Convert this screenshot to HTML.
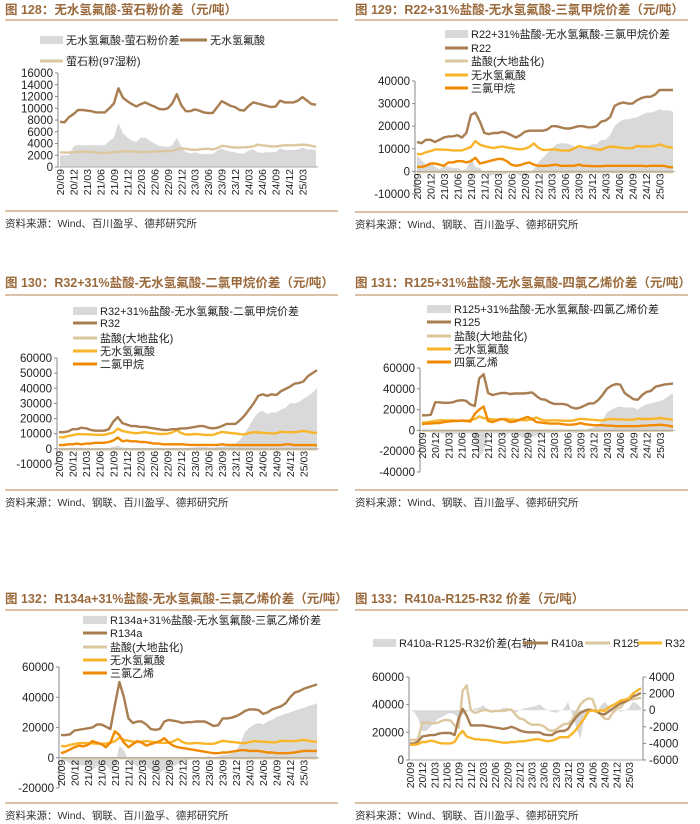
<!DOCTYPE html>
<html><head><meta charset="utf-8"><style>
html,body{margin:0;padding:0;background:#fff;}
svg{display:block;font-family:"Liberation Sans","Noto Sans CJK SC",sans-serif;}
</style></head><body>
<svg id="root" width="700" height="824" viewBox="0 0 700 824" xmlns="http://www.w3.org/2000/svg"></svg>
<script>
const dates=["20/09","20/12","21/03","21/06","21/09","21/12","22/03","22/06","22/09","22/12","23/03","23/06","23/09","23/12","24/03","24/06","24/09","24/12","25/03"];
const ahf=[7700,7600,8500,9000,9700,9700,9600,9500,9300,9300,9300,10000,10800,13400,11800,11200,10700,10300,10700,11000,10600,10300,9900,9800,10000,10800,12400,10500,9500,9500,9800,9600,9300,9200,9200,10200,11200,10800,10400,10200,9700,9600,10400,11000,10800,10600,10400,10200,10300,11300,11000,11000,11000,11300,11900,11300,10700,10600];
const fluorite=[2500,2450,2450,2500,2600,2600,2600,2550,2450,2400,2400,2450,2500,2600,2650,2700,2650,2600,2500,2550,2600,2600,2650,2700,2700,2800,3000,3200,3100,3000,2900,3000,3100,3100,3000,3200,3600,3500,3400,3300,3300,3350,3400,3500,3800,3700,3600,3500,3500,3600,3700,3700,3700,3750,3800,3750,3600,3400];
const spread128=[2000,2000,2000,3500,3800,3700,3700,3700,3700,3700,3700,4500,5000,7500,5800,5000,4500,4300,5000,5000,4500,4000,3600,3500,3400,3700,5000,3500,2500,2300,2500,2300,2200,2200,2200,2800,3200,2800,2600,2500,2300,2300,2800,3000,2500,2400,2500,2500,2500,3200,2900,2900,2900,3000,3300,3000,3000,2900];
const hcl=[-300,-300,-300,-300,-300,-300,-300,-300,-300,-300,-300,-300,-300,-300,-300,-300,-300,-300,-300,-300,-300,-300,-300,-300,-300,-300,-300,-300,-300,-300,-300,-300,-300,-300,-300,-300,-300,-300,-300,-300,-300,-300,-300,-300,-300,-300,-300,-300,-300,-300,-300,-300,-300,-300,-300,-300,-300,-300];
const r22=[13000,12500,14000,14000,13000,14000,15000,15500,15500,16000,15000,17000,25000,26000,22000,17000,16500,17000,17000,17500,17000,16000,15000,16000,17500,18000,18000,18000,18000,18500,20000,20000,19500,19000,19000,19500,20000,20000,19500,19500,20000,22000,22500,24000,29000,30000,30500,30000,30000,31500,32500,33000,33000,34000,36000,36000,36000,36000];
const chcl3=[2000,2000,2500,3500,3500,3000,2500,4000,4000,4500,4500,4000,4500,6000,3500,4000,4500,5000,5500,5500,4500,3000,2500,2800,3500,4000,3000,2500,2500,2500,2800,3000,2500,2500,2500,2500,3000,2500,2500,2300,2300,2300,2500,2500,2500,2500,2500,2500,2500,2500,2500,2300,2500,2500,2500,2500,2000,1800];
const spread129=[7000,5000,3000,4000,2000,1000,2500,2000,1500,1500,500,1000,6000,2000,1500,-1000,-2000,-1500,-1500,-1500,-1000,0,-1000,-2000,-1500,-500,1000,4000,6000,8000,10000,12000,12500,12500,12000,11000,10500,11000,11000,12000,12000,14000,14000,16000,20000,22000,23000,23000,23500,24000,25000,26000,26000,26500,27500,27000,27000,26500];
const r32=[11000,11000,11500,13000,13000,14000,13500,12500,12000,12000,12000,13000,18000,21000,17000,16000,15000,15000,14500,14500,14000,13500,13000,12500,12500,13000,13000,13500,13500,14000,14500,15000,15000,14000,13500,14000,15000,16500,16500,16500,19000,22000,26000,30000,35000,36000,35000,36000,35500,38000,39500,41000,43000,43500,44500,48000,50000,52000];
const dcm=[2500,2500,3000,3000,3500,3000,3500,3500,4000,4000,4000,4500,5500,7500,5000,5500,5000,5000,4500,4500,4000,3500,3500,3000,3000,3000,3000,3000,2800,2600,2600,2600,2600,2600,2600,2600,3000,2700,2600,2600,2500,2500,2500,2500,2500,2500,2500,2500,2500,2500,3000,3000,2500,2500,2500,2500,2500,2300];
const spread130=[500,500,500,800,600,800,500,200,200,200,200,300,1500,2000,800,600,500,500,500,500,300,200,200,200,200,300,300,400,500,800,1000,1200,1200,1000,800,1000,1500,2000,3000,3500,6000,10000,15000,20000,24000,25000,23000,24000,24000,26000,27000,30000,30000,31000,33000,35000,37000,40000];
const r125=[14500,14500,15000,27000,27000,26500,26500,27000,28500,29000,28500,25000,23500,50000,54000,36000,34000,35000,36000,36000,35000,35500,35500,35500,36000,36500,33000,30000,29500,27000,25500,25500,25500,24500,22000,21000,22000,24000,26000,26000,29000,34000,40000,43000,44500,44000,36000,33000,30000,29500,34000,37000,38000,42000,43000,44000,44500,45000];
const pce=[6000,6500,6500,7000,7000,8000,8500,9000,9000,9500,9000,8500,16000,20000,23000,9000,8000,9500,11000,10000,8000,8500,10000,11500,13000,11000,8000,7500,7000,6500,6500,6500,6000,5500,5500,6000,7000,6000,5500,5000,5000,5000,4500,4500,4000,4000,4000,4000,4000,4000,4500,4500,5000,5000,5500,5000,4500,3500];
const spread131=[-1000,-1000,-2000,-3000,-3000,-3500,-4000,-4000,-3500,-3500,-3000,-3000,-8000,-25000,-20000,-5000,-3000,-3000,-5000,-4000,-3000,-4000,-5000,-7000,-9000,-6000,-5000,-4000,-3000,-2500,-2000,-2000,-1500,-1500,-2000,-2500,-1500,500,2000,3000,5000,10000,17000,20000,22000,23000,22000,22000,22000,20000,23000,25000,26000,27000,28000,30000,33000,36000];
const r134a=[15000,15000,15500,18000,18500,19000,19500,20000,22000,22000,20500,19000,35000,50000,40000,26000,23000,24000,24000,22000,19000,18500,19000,24000,25000,24500,24000,23000,23500,23500,24000,24000,24000,22500,21000,21500,26000,26000,26500,27500,29000,31000,32000,32000,31500,29000,30000,32000,33000,34000,36000,40000,43000,44000,45500,46500,47500,48500];
const tce=[3000,4000,5500,7000,8000,7500,8500,11000,10000,9000,7000,10000,17500,15000,10000,7000,9000,11000,10000,8000,9000,10000,11000,13000,10000,8000,7000,6500,6000,5500,5000,4500,4000,3500,3000,3000,3500,3500,4000,4500,5000,5000,4500,4500,4500,4000,3500,3500,3000,3000,3000,3200,3500,4000,4500,4500,4500,4500];
const spread132=[-2000,-2000,-4000,-5000,-5000,-5000,-6000,-8000,-6000,-5000,-5000,-8000,-6000,8000,5000,-2000,-4000,-6000,-5000,-6000,-8000,-9000,-10000,-8000,-7000,-6000,-4000,-3000,-2000,-1000,0,500,500,1000,500,1000,2000,2000,3000,5000,10000,17000,20000,22000,23000,22000,24000,25000,27000,28000,29000,30000,31000,32000,33000,34000,35000,36000];
const r410a=[12000,12000,13500,17000,17500,18000,18000,19000,19500,19500,19500,18000,30000,37000,32000,25000,25000,25000,25000,24500,24000,23500,23000,22500,23000,24000,23000,21500,20500,20000,20000,20000,20000,18500,18000,18000,20000,21000,21000,22500,27000,31000,34000,35500,36500,36000,35000,33500,33000,35000,37000,39000,41000,42000,44000,46000,47000,48500];
const spread133=[0,-200,-1000,-2500,-2500,-2000,-1500,-1000,-800,-500,-300,-500,-1000,-500,-200,0,200,300,600,200,0,0,0,300,300,0,-300,0,200,300,400,500,700,300,0,-200,-300,-100,200,1000,-500,-2000,-3500,-1000,-500,200,-300,500,1000,500,-200,0,-200,0,200,1000,800,300];

const NS="http://www.w3.org/2000/svg";
const root=document.getElementById('root');
const BROWN="#a87d50",TAN="#dcc79f",YEL="#f8b52a",ORG="#f08a00",GRAY="#d9d9d9",TITLE="#9b6a3c";
function mk(tag,attrs,parent){const e=document.createElementNS(NS,tag);for(const k in attrs)e.setAttribute(k,attrs[k]);(parent||root).appendChild(e);return e;}

function panel(c){
  const g=mk('g',{});
  
  
  const t=mk('text',{x:c.px+5,y:c.titleY,'font-size':12.5,'font-weight':'bold',fill:TITLE},g);
  t.textContent=c.title;
  
  
  const l1=mk('line',{x1:c.px+5,x2:c.px+338,y1:c.ruleY,y2:c.ruleY,stroke:'#cfae88','stroke-width':1.5},g);
  
  
  const l2=mk('line',{x1:c.px+5,x2:c.px+338,y1:c.botY,y2:c.botY,stroke:'#cfae88','stroke-width':1.5},g);
  
  
  const s=mk('text',{x:c.px+5,y:c.botY+16,'font-size':10.5,fill:'#333'},g);
  s.textContent=c.source;
  
  
  const n=ahf.length;
  const xs=i=>c.x0+(c.x1-c.x0)*i/(n-1);
  const ys=v=>c.yT+(c.vT-v)*(c.yB-c.yT)/(c.vT-c.vB);
  const yr=c.rvT!==undefined?(v=>c.yT+(c.rvT-v)*(c.yB-c.yT)/(c.rvT-c.rvB)):null;
  // area
  if(c.area){
    const f=c.areaRight?yr:ys;
    let d='M'+xs(0)+','+f(0);
    c.area.forEach((v,i)=>{d+=' L'+xs(i).toFixed(1)+','+f(v).toFixed(1);});
    d+=' L'+xs(n-1)+','+f(0)+' Z';
    const a=mk('path',{d:d,fill:GRAY},g);
    
    
  }
  c.lines.forEach(L=>{
    let d='';
    L.data.forEach((v,i)=>{d+=(i?' L':'M')+xs(i).toFixed(1)+','+ys(v).toFixed(1);});
    const p=mk('path',{d:d,fill:'none',stroke:L.color,'stroke-width':2.4,'stroke-linejoin':'round'},g);
    
    
  });
  // y axis
  const ax=mk('line',{x1:c.axX,x2:c.axX,y1:c.yT,y2:c.yB,stroke:'#888','stroke-width':1},g);
  
  
  for(let v=c.vB;v<=c.vT+1;v+=c.step){
    const tk=mk('line',{x1:c.axX-3,x2:c.axX,y1:ys(v),y2:ys(v),stroke:'#888'},g);
    
    
    const tx=mk('text',{x:c.axX-5,y:ys(v)+4,'font-size':11.5,'text-anchor':'end',fill:'#222'},g);
    tx.textContent=v;
    
    
  }
  if(yr){
    const rx=c.x1+2;
    const ra=mk('line',{x1:rx,x2:rx,y1:c.yT,y2:c.yB,stroke:'#888'},g);
    
    
    for(let v=c.rvB;v<=c.rvT+1;v+=c.rstep){
      const tk=mk('line',{x1:rx,x2:rx+3,y1:yr(v),y2:yr(v),stroke:'#888'},g);
      
      
      const tx=mk('text',{x:rx+6,y:yr(v)+4,'font-size':11.5,fill:'#222'},g);
      tx.textContent=v;
      
      
    }
  }
  const zy=ys(0);
  const xa=mk('line',{x1:c.axX,x2:c.x1+2,y1:zy,y2:zy,stroke:'#aaa','stroke-width':1},g);
  
  
  dates.forEach((d,k)=>{
    const x=xs(k*3);
    const tx=mk('text',{transform:'translate('+(x+4)+','+(zy+2)+') rotate(-90)','font-size':10.5,'text-anchor':'end',fill:'#222'},g);
    tx.textContent=d;
    
    
  });
  c.legend.forEach(it=>{
    if(it.box){
      const r=mk('rect',{x:it.x,y:it.y-4,width:it.w,height:8,fill:GRAY},g);
      
      
    } else {
      const r=mk('line',{x1:it.x,x2:it.x+it.w,y1:it.y,y2:it.y,stroke:it.color,'stroke-width':3},g);
      
      
    }
    const tx=mk('text',{x:it.x+it.w+3,y:it.y+4,'font-size':11,fill:'#222'},g);
    tx.textContent=it.label;
    
    
  });
}
const SRC="资料来源：Wind、钢联、百川盈孚、德邦研究所";
panel({name:'chart-128',px:0,titleY:14,ruleY:20,botY:211,title:'图 128：无水氢氟酸-萤石粉价差（元/吨）',source:'资料来源：Wind、百川盈孚、德邦研究所',
 x0:60,x1:316,axX:58,yT:73,yB:167,vT:16000,vB:0,step:2000,area:spread128,
 lines:[{key:'fluorite',data:fluorite,color:TAN},{key:'ahf',data:ahf,color:BROWN}],
 legend:[{box:1,x:40,y:40,w:23,label:'无水氢氟酸-萤石粉价差'},{x:180,y:40,w:27,color:BROWN,label:'无水氢氟酸'},{x:40,y:61,w:23,color:TAN,label:'萤石粉(97湿粉)'}]});
panel({name:'chart-129',px:350,titleY:14,ruleY:20,botY:212,title:'图 129：R22+31%盐酸-无水氢氟酸-三氯甲烷价差（元/吨）',source:SRC,
 x0:417,x1:673,axX:415,yT:81,yB:194,vT:40000,vB:-10000,step:10000,area:spread129,
 lines:[{key:'hcl',data:hcl,color:TAN},{key:'ahf',data:ahf,color:YEL},{key:'chcl3',data:chcl3,color:ORG},{key:'r22',data:r22,color:BROWN}],
 legend:[{box:1,x:445,y:34,w:23,label:'R22+31%盐酸-无水氢氟酸-三氯甲烷价差'},{x:445,y:48,w:23,color:BROWN,label:'R22'},{x:445,y:61,w:23,color:TAN,label:'盐酸(大地盐化)'},{x:445,y:75,w:23,color:YEL,label:'无水氢氟酸'},{x:445,y:88,w:23,color:ORG,label:'三氯甲烷'}]});
panel({name:'chart-130',px:0,titleY:287,ruleY:295,botY:490,title:'图 130：R32+31%盐酸-无水氢氟酸-二氯甲烷价差（元/吨）',source:SRC,
 x0:59,x1:317,axX:57,yT:358,yB:464,vT:60000,vB:-10000,step:10000,area:spread130,
 lines:[{key:'hcl',data:hcl,color:TAN},{key:'ahf',data:ahf,color:YEL},{key:'dcm',data:dcm,color:ORG},{key:'r32',data:r32,color:BROWN}],
 legend:[{box:1,x:73,y:311,w:24,label:'R32+31%盐酸-无水氢氟酸-二氯甲烷价差'},{x:73,y:323,w:24,color:BROWN,label:'R32'},{x:73,y:338,w:24,color:TAN,label:'盐酸(大地盐化)'},{x:73,y:351,w:24,color:YEL,label:'无水氢氟酸'},{x:73,y:364,w:24,color:ORG,label:'二氯甲烷'}]});
panel({name:'chart-131',px:350,titleY:287,ruleY:295,botY:490,title:'图 131：R125+31%盐酸-无水氢氟酸-四氯乙烯价差（元/吨）',source:SRC,
 x0:422,x1:673,axX:420,yT:368,yB:472,vT:60000,vB:-40000,step:20000,area:spread131,
 lines:[{key:'hcl',data:hcl,color:TAN},{key:'ahf',data:ahf,color:YEL},{key:'pce',data:pce,color:ORG},{key:'r125',data:r125,color:BROWN}],
 legend:[{box:1,x:427,y:309,w:24,label:'R125+31%盐酸-无水氢氟酸-四氯乙烯价差'},{x:427,y:322,w:24,color:BROWN,label:'R125'},{x:427,y:336,w:24,color:TAN,label:'盐酸(大地盐化)'},{x:427,y:349,w:24,color:YEL,label:'无水氢氟酸'},{x:427,y:362,w:24,color:ORG,label:'四氯乙烯'}]});
panel({name:'chart-132',px:0,titleY:603,ruleY:610,botY:803,title:'图 132：R134a+31%盐酸-无水氢氟酸-三氯乙烯价差（元/吨）',source:SRC,
 x0:61,x1:317,axX:59,yT:667,yB:788,vT:60000,vB:-20000,step:20000,area:spread132,
 lines:[{key:'hcl',data:hcl,color:TAN},{key:'ahf',data:ahf,color:YEL},{key:'tce',data:tce,color:ORG},{key:'r134a',data:r134a,color:BROWN}],
 legend:[{box:1,x:83,y:620,w:24,label:'R134a+31%盐酸-无水氢氟酸-三氯乙烯价差'},{x:83,y:633,w:24,color:BROWN,label:'R134a'},{x:83,y:647,w:24,color:TAN,label:'盐酸(大地盐化)'},{x:83,y:660,w:24,color:YEL,label:'无水氢氟酸'},{x:83,y:673,w:24,color:ORG,label:'三氯乙烯'}]});
panel({name:'chart-133',px:350,titleY:603,ruleY:610,botY:803,title:'图 133：R410a-R125-R32 价差（元/吨）',source:SRC,
 x0:410,x1:641,axX:409,yT:677,yB:760,vT:60000,vB:0,step:20000,rvT:4000,rvB:-6000,rstep:2000,area:spread133,areaRight:1,
 lines:[{key:'r125',data:r125,color:TAN},{key:'r410a',data:r410a,color:BROWN},{key:'r32',data:r32,color:YEL}],
 legend:[{box:1,x:373,y:643,w:23,label:'R410a-R125-R32价差(右轴)'},{x:523,y:643,w:25,color:BROWN,label:'R410a'},{x:585,y:643,w:25,color:TAN,label:'R125'},{x:638,y:643,w:24,color:YEL,label:'R32'}]});
</script>
</body></html>
